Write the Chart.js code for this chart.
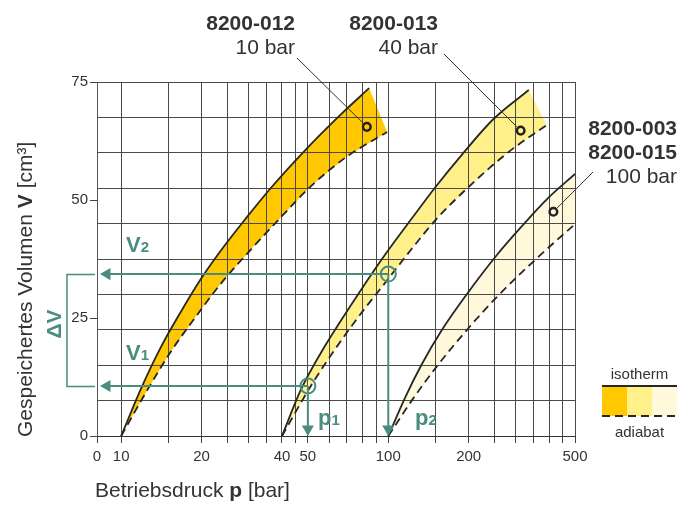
<!DOCTYPE html>
<html><head><meta charset="utf-8">
<script src="https://cdn.jsdelivr.net/npm/chart.js@4.4.1/dist/chart.umd.min.js"></script>
<style>html,body{margin:0;padding:0;background:#fff;}#c{display:block;}</style>
</head><body>
<canvas id="c" width="695" height="505"></canvas>
<script>
// ---------------- data ----------------
const xAxisMin = 8.12;            // left edge of the pressure axis (labelled "0")
const xAxisMax = 500;
const xTickValues = [8.12,10,15,20,25,30,35,40,45,50,60,70,80,90,100,150,200,250,300,350,400,450,500];
const xTickLabels = {'8.12':'0','10':'10','20':'20','40':'40','50':'50','100':'100','200':'200','500':'500'};
const yGridValues = [0,7.5,15,22.5,30,37.5,45,52.5,60,67.5,75];
const yLabelValues = [0,25,50,75];

// 8200-012 (10 bar)
const p012Iso = [10, 11.9, 14.1, 16.8, 19.9, 23.7, 29.4, 36.4, 49.3, 66.6, 84.8];
const v012Iso = [0, 10.2, 18.9, 26.5, 33.3, 39.4, 46.2, 52.6, 60.8, 68.2, 73.7];
const p012Adi = [10, 12.4, 15.4, 19.1, 23.7, 30.7, 39.7, 51.5, 69.6, 99];
const v012Adi = [0, 9.3, 18.0, 25.4, 32.4, 39.6, 46.4, 53.0, 59.1, 64.4];
// 8200-013 (40 bar)
const p013Iso = [40, 47.0, 55.9, 66.4, 78.9, 97.8, 121.4, 150.5, 186.7, 246.1, 335.7];
const v013Iso = [0, 9.7, 17.6, 24.4, 30.9, 38.6, 45.8, 52.8, 59.3, 67.0, 73.3];
const p013Adi = [40, 51.3, 63.6, 78.9, 97.8, 121.4, 150.5, 200.1, 282.5, 392];
const v013Adi = [0, 10.6, 18.6, 25.9, 32.6, 39.4, 45.8, 52.8, 60.2, 65.9];
// 8200-003 / 8200-015 (100 bar)
const p003Iso = [100, 115.5, 133.8, 158.9, 197.1, 255.4, 316.8, 392.9, 500];
const v003Iso = [0, 8.1, 15.3, 22.5, 30.1, 38.4, 44.5, 50.2, 55.5];
const p003Adi = [100, 122.7, 152.2, 197.1, 255.4, 360.5, 500];
const v003Adi = [0, 7.6, 14.8, 22.5, 29.5, 37.7, 44.9];

// product markers on the bands
const markerP = [83.1, 313, 415];
const markerV = [65.5, 64.7, 47.5];

// worked example: p1 -> V1, p2 -> V2
const exP = [50, 100];
const exV = [10.6, 34.3];
const arrowTipP = 8.85;   // arrow heads at the volume axis
const arrowTipV = 1.5;    // arrow heads at the pressure axis

// ---------------- styling ----------------
const FF = '"Liberation Sans", Arial, Helvetica, sans-serif';
const TEXT = '#333333';
const TEAL = '#4a8c7e';
const LINE = '#262626';
const GRID = '#4a4a4a';
const FILLS = ['#ffc800', '#fff08a', '#fff8da'];

const pts = (p, v) => p.map((x, i) => ({x, y: v[i]}));
function polygon(pi, vi, pa, va) {
  const a = pts(pi, vi);
  const b = pts(pa, va).reverse();
  return a.concat(b);
}
function fillDs(pi, vi, pa, va, col) {
  return {data: polygon(pi, vi, pa, va), backgroundColor: col, borderColor: 'rgba(0,0,0,0)',
    borderWidth: 0, fill: 'shape', pointRadius: 0, tension: 0, order: 9};
}
function curveDs(p, v, dash) {
  return {data: pts(p, v), borderColor: LINE, borderWidth: 1.8, borderDash: dash, fill: false,
    pointRadius: 0, cubicInterpolationMode: 'monotone', order: 3};
}
function shaftDs(a, b) {
  return {data: [a, b], borderColor: TEAL, borderWidth: 2, fill: false, pointRadius: 0, order: 2};
}

const datasets = [
  fillDs(p012Iso, v012Iso, p012Adi, v012Adi, FILLS[0]),
  fillDs(p013Iso, v013Iso, p013Adi, v013Adi, FILLS[1]),
  fillDs(p003Iso, v003Iso, p003Adi, v003Adi, FILLS[2]),
  curveDs(p012Iso, v012Iso, []),
  curveDs(p012Adi, v012Adi, [8, 5]),
  curveDs(p013Iso, v013Iso, []),
  curveDs(p013Adi, v013Adi, [8, 5]),
  curveDs(p003Iso, v003Iso, []),
  curveDs(p003Adi, v003Adi, [8, 5]),
  shaftDs({x: exP[0], y: exV[0]}, {x: arrowTipP, y: exV[0]}),
  shaftDs({x: exP[1], y: exV[1]}, {x: arrowTipP, y: exV[1]}),
  shaftDs({x: exP[0], y: exV[0]}, {x: exP[0], y: arrowTipV}),
  shaftDs({x: exP[1], y: exV[1]}, {x: exP[1], y: arrowTipV}),
  {data: [{x: arrowTipP, y: exV[0]}, {x: arrowTipP, y: exV[1]}, {x: exP[0], y: arrowTipV}, {x: exP[1], y: arrowTipV}],
   showLine: false, pointStyle: 'triangle', pointRadius: 7, pointRotation: [-90, -90, 180, 180],
   pointBackgroundColor: TEAL, pointBorderColor: TEAL, pointBorderWidth: 0, order: 1},
  {data: pts(exP, exV), showLine: false, pointStyle: 'circle', pointRadius: 7.5,
   pointBackgroundColor: 'rgba(0,0,0,0)', pointBorderColor: TEAL, pointBorderWidth: 2, order: 1},
  {data: pts(markerP, markerV), showLine: false, pointStyle: 'circle', pointRadius: 3.8,
   pointBackgroundColor: 'rgba(0,0,0,0)', pointBorderColor: '#222', pointBorderWidth: 2.5, order: 0}
];

// ---------------- annotation text plugin ----------------
function runs(ctx, parts, x, y) {
  let cx = x;
  for (const p of parts) {
    ctx.font = p.f;
    ctx.fillText(p.t, cx, y + (p.dy || 0));
    cx += ctx.measureText(p.t).width;
  }
  return cx;
}
const annot = {
  id: 'annot',
  afterDraw(chart) {
    const ctx = chart.ctx;
    const xs = chart.scales.x, ys = chart.scales.y;
    ctx.save();
    ctx.textBaseline = 'alphabetic';
    ctx.textAlign = 'left';
    ctx.fillStyle = TEXT;
    // axis titles
    runs(ctx, [{t: 'Betriebsdruck ', f: '21px ' + FF}, {t: 'p', f: 'bold 21px ' + FF}, {t: ' [bar]', f: '21px ' + FF}], 95, 497);
    ctx.save();
    ctx.translate(32, 437);
    ctx.rotate(-Math.PI / 2);
    runs(ctx, [{t: 'Gespeichertes Volumen ', f: '21px ' + FF}, {t: 'V', f: 'bold 21px ' + FF}, {t: ' [cm³]', f: '21px ' + FF}], 0, 0);
    ctx.restore();

    // product labels
    ctx.textAlign = 'right';
    const lab = [
      {lines: ['8200-012', '10 bar'], x: 295, y: [29.5, 54], from: [297, 58]},
      {lines: ['8200-013', '40 bar'], x: 438, y: [29.5, 54], from: [444, 54]},
      {lines: ['8200-003', '8200-015', '100 bar'], x: 677, y: [135, 159, 183], from: [593, 172]}
    ];
    lab.forEach((L, k) => {
      L.lines.forEach((t, i) => {
        ctx.font = (i < L.lines.length - 1 ? 'bold ' : '') + '21px ' + FF;
        ctx.fillText(t, L.x, L.y[i]);
      });
      const mx = xs.getPixelForValue(markerP[k]), my = ys.getPixelForValue(markerV[k]);
      const dx = mx - L.from[0], dy = my - L.from[1], d = Math.hypot(dx, dy);
      ctx.strokeStyle = '#333';
      ctx.lineWidth = 1;
      ctx.beginPath();
      ctx.moveTo(L.from[0], L.from[1]);
      ctx.lineTo(mx - dx / d * 5.5, my - dy / d * 5.5);
      ctx.stroke();
    });

    // worked example labels (teal)
    ctx.fillStyle = TEAL;
    ctx.strokeStyle = TEAL;
    ctx.textAlign = 'left';
    const y1 = ys.getPixelForValue(exV[0]), y2 = ys.getPixelForValue(exV[1]);
    runs(ctx, [{t: 'V', f: 'bold 22px ' + FF}, {t: '2', f: 'bold 15px ' + FF}], 126, 252);
    runs(ctx, [{t: 'V', f: 'bold 22px ' + FF}, {t: '1', f: 'bold 15px ' + FF}], 126, 360);
    runs(ctx, [{t: 'p', f: 'bold 22px ' + FF}, {t: '1', f: 'bold 15px ' + FF}], 318, 425);
    runs(ctx, [{t: 'p', f: 'bold 22px ' + FF}, {t: '2', f: 'bold 15px ' + FF}], 415, 425);
    // delta V bracket
    ctx.lineWidth = 1.5;
    ctx.beginPath();
    ctx.moveTo(95, Math.round(y2) + 0.5);
    ctx.lineTo(67, Math.round(y2) + 0.5);
    ctx.lineTo(67, Math.round(y1) + 0.5);
    ctx.lineTo(95, Math.round(y1) + 0.5);
    ctx.stroke();
    ctx.save();
    ctx.translate(61, (y1 + y2) / 2 - 6);
    ctx.rotate(-Math.PI / 2);
    ctx.textAlign = 'center';
    ctx.font = 'bold 21px ' + FF;
    ctx.fillText('ΔV', 0, 0);
    ctx.restore();

    // legend
    const lx0 = 602, lx1 = 677;
    ctx.fillStyle = TEXT;
    ctx.textAlign = 'center';
    ctx.font = '15px ' + FF;
    ctx.fillText('isotherm', 639.5, 379);
    ctx.fillText('adiabat', 639.5, 437);
    const bw = (lx1 - lx0) / 3;
    FILLS.forEach((c, i) => { ctx.fillStyle = c; ctx.fillRect(lx0 + i * bw, 387, bw, 29); });
    ctx.strokeStyle = LINE;
    ctx.lineWidth = 1.8;
    ctx.beginPath(); ctx.moveTo(lx0, 386); ctx.lineTo(lx1, 386); ctx.stroke();
    ctx.setLineDash([8, 5]);
    ctx.beginPath(); ctx.moveTo(lx0, 416); ctx.lineTo(lx1, 416); ctx.stroke();
    ctx.restore();
  }
};

// ---------------- chart ----------------
new Chart(document.getElementById('c'), {
  type: 'line',
  data: {datasets},
  plugins: [annot],
  options: {
    responsive: false,
    animation: false,
    events: [],
    layout: {padding: {top: 82, right: 120, left: 0, bottom: 0}},
    plugins: {legend: {display: false}, tooltip: {enabled: false}, filler: {drawTime: 'beforeDraw'}},
    scales: {
      x: {
        type: 'logarithmic', min: xAxisMin, max: xAxisMax,
        afterBuildTicks: s => { s.ticks = xTickValues.map(v => ({value: v})); },
        afterFit: s => { s.height = 69; },
        ticks: {autoSkip: false, maxRotation: 0, padding: 5, color: TEXT, font: {family: FF, size: 15},
                callback: v => xTickLabels[String(v)] || ''},
        grid: {color: GRID, lineWidth: 1, tickLength: 7, tickColor: '#444'},
        border: {color: '#333', width: 1}
      },
      y: {
        type: 'linear', min: 0, max: 75,
        afterBuildTicks: s => {
          const vals = Array.from(new Set(yGridValues.concat(yLabelValues))).sort((a, b) => a - b);
          s.ticks = vals.map(v => ({value: v}));
        },
        afterFit: s => { s.width = 97; },
        ticks: {autoSkip: false, padding: 2, color: TEXT, font: {family: FF, size: 15},
                callback: v => (yLabelValues.includes(v) ? String(v) : '')},
        grid: {
          lineWidth: 1, tickLength: 7,
          color: c => (c.tick && yGridValues.includes(c.tick.value)) ? GRID : 'rgba(0,0,0,0)',
          tickColor: c => (c.tick && yLabelValues.includes(c.tick.value)) ? '#444' : 'rgba(0,0,0,0)'
        },
        border: {color: '#555', width: 1}
      }
    }
  }
});
</script>
</body></html>
